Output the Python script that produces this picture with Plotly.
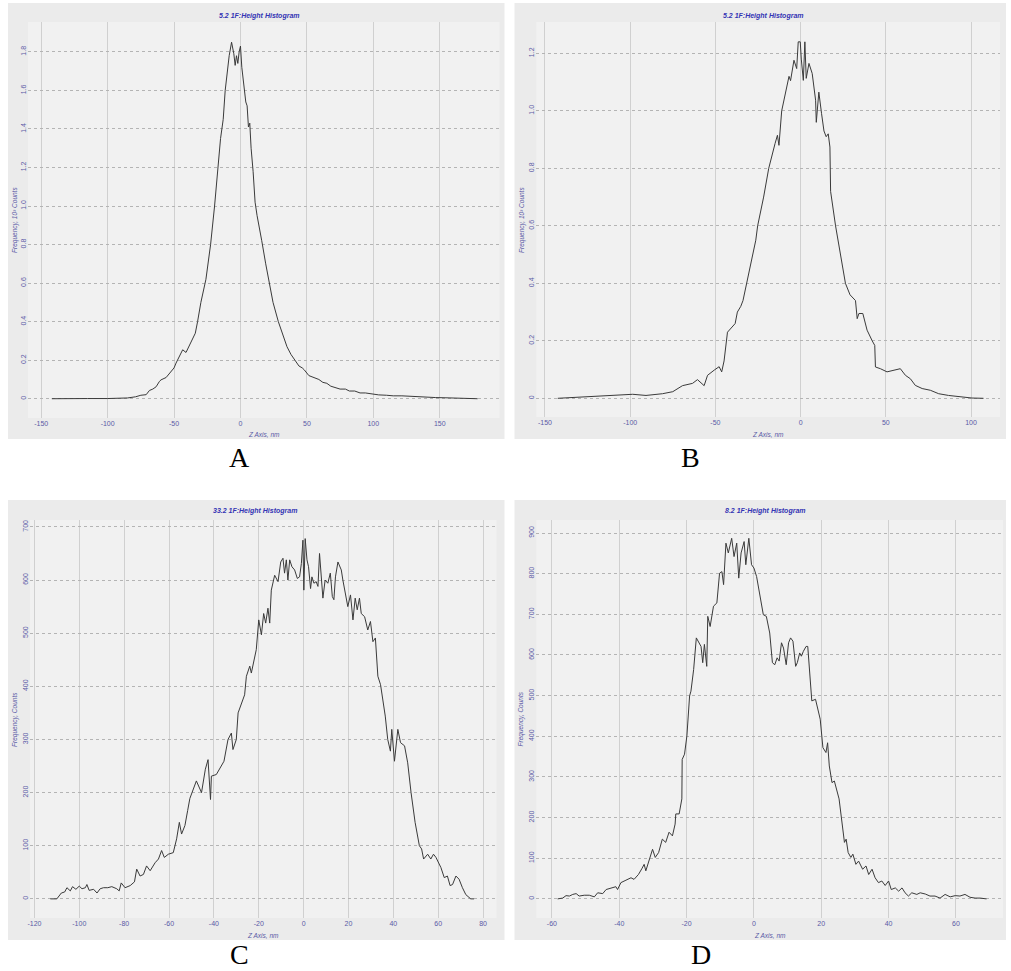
import plotly.graph_objects as go

W, H = 1011, 971

# ---------------- data ----------------
A_x = [-142, -130, -115, -100, -91, -85, -79, -75, -71, -68.5,
       -66, -63.5, -61, -59.8, -56, -52.3, -50, -48.5, -46, -43.5,
       -41, -37.3, -34, -32.3, -29.8, -26, -22.5, -19.5, -17, -15,
       -13, -11.5, -8.5, -6.7, -5, -4, -3, -2, -1, 0,
       1, 2.5, 4, 5, 6, 7, 8, 9.5, 11, 12.5,
       14, 16, 19, 22, 24.5, 28.5, 31.5, 35, 38, 41,
       44, 46.5, 48, 51.5, 55, 59, 62, 65, 68, 71,
       75, 79, 82, 86, 90, 94, 99, 104, 110, 115,
       121.5, 128, 134, 140, 147, 154, 160, 166, 172, 178.5]
A_y = [0, 0.002, 0.001, 0.001, 0.002, 0.004, 0.01, 0.018, 0.021, 0.043,
       0.05, 0.062, 0.09, 0.098, 0.11, 0.14, 0.16, 0.185, 0.22, 0.254,
       0.24, 0.29, 0.34, 0.4, 0.5, 0.62, 0.8, 1.0, 1.2, 1.35,
       1.45, 1.6, 1.78, 1.85, 1.79, 1.73, 1.78, 1.74, 1.8, 1.83,
       1.72, 1.62, 1.54, 1.52, 1.41, 1.43, 1.3, 1.18, 1.02, 0.95,
       0.9, 0.82, 0.7, 0.6, 0.5, 0.4, 0.34, 0.27, 0.23, 0.2,
       0.17, 0.16, 0.15, 0.12, 0.11, 0.1, 0.085, 0.08, 0.065, 0.06,
       0.05, 0.05, 0.04, 0.04, 0.03, 0.03, 0.025, 0.02, 0.018, 0.015,
       0.015, 0.012, 0.01, 0.008, 0.006, 0.005, 0.004, 0.003, 0.003, 0]

B_x = [-142.5, -133.7, -122, -110, -98.5, -90.7, -81, -75, -69.3, -63.4,
       -60.5, -56.6, -54.6, -50.7, -47.8, -46.3, -44.9, -42.9, -41, -38.4,
       -37.1, -35.1, -33.8, -31.6, -28, -26.3, -25.2, -21.7, -18.7, -16.4,
       -15, -13.6, -12.7, -11.1, -8.8, -6.8, -5.9, -3.9, -2.3, -1.4,
       -0.2, 0.4, 1.6, 2.5, 3.3, 4.9, 6.8, 8.8, 9.2, 10.7,
       12.3, 13.7, 15, 16.2, 17.2, 17.6, 20.5, 23.4, 25, 26.3,
       29, 32.2, 33.2, 34.2, 36.5, 39, 42, 43.5, 43.9, 46.8,
       50.7, 54.6, 58.5, 61.5, 64.4, 67.3, 71.3, 76.1, 81, 86.8,
       93.7, 100.5, 107.3]
B_y = [0, 0.003, 0.005, 0.01, 0.014, 0.01, 0.016, 0.023, 0.044, 0.052,
       0.065, 0.044, 0.08, 0.098, 0.11, 0.092, 0.13, 0.23, 0.244, 0.26,
       0.3, 0.32, 0.34, 0.4, 0.5, 0.55, 0.6, 0.7, 0.8, 0.86,
       0.886, 0.915, 0.88, 1.0, 1.07, 1.12, 1.105, 1.176, 1.147, 1.24,
       1.24, 1.18, 1.106, 1.24, 1.113, 1.165, 1.13, 1.037, 0.96, 1.065,
       0.99, 0.93, 0.91, 0.92, 0.874, 0.72, 0.6, 0.5, 0.45, 0.4,
       0.36, 0.34, 0.277, 0.295, 0.295, 0.237, 0.2, 0.184, 0.109, 0.103,
       0.092, 0.097, 0.103, 0.08, 0.068, 0.045, 0.034, 0.028, 0.016, 0.01,
       0.005, 0.001, 0]

C_x = [-112.9, -110, -108, -106.5, -105.5, -104, -103, -101.5, -100, -98.8,
       -97.3, -96.6, -95.6, -93.6, -92.1, -90.7, -89.2, -87.3, -85.5, -83.3,
       -82.2, -81.3, -79.6, -77.3, -75.4, -74.4, -72.9, -71.4, -70, -68.4,
       -66.2, -64.7, -63.3, -62.1, -60.3, -58.1, -56.6, -55.4, -54.4, -52.9,
       -51.7, -50.7, -47.8, -45.5, -43.8, -42.6, -41.5, -41.1, -38.9, -37.4,
       -35.5, -33.7, -32.2, -31.5, -30, -29.2, -27.7, -26.3, -25.5, -24,
       -23.3, -22.1, -21.1, -20, -18.8, -17.8, -16.9, -15.9, -15.1, -14.4,
       -12.9, -11.4, -10.2, -9.2, -8.5, -7.7, -7, -6.2, -5.2, -4,
       -2.8, -1.8, -1, -0.3, 0.1, 0.7, 1.5, 2.2, 3.1, 3.7,
       4.6, 5.6, 6.4, 7.1, 7.9, 8.6, 9.6, 10.8, 11.9, 12.8,
       13.5, 14.2, 15.3, 16.8, 17.5, 18.5, 19.7, 20.9, 22, 23,
       23.9, 24.9, 25.7, 27.2, 28.6, 29.8, 30.9, 32, 33.1, 34.3,
       35.3, 36.4, 37.5, 38.7, 39.3, 40.5, 42, 43.2, 45, 46.4,
       47.9, 49.7, 51.6, 52.6, 53.5, 55.3, 56.7, 57.9, 59, 61.2,
       62.7, 64.1, 65.3, 66.4, 67.9, 69.3, 70.8, 72.3, 74.5, 76]
C_y = [0, 0, 11, 13, 21, 15, 23, 18, 24, 19,
       21, 27, 16, 18, 11, 19, 21, 21, 23, 19,
       15, 30, 21, 25, 32, 56, 43, 46, 62, 53,
       68, 75, 91, 78, 84, 87, 113, 144, 122, 138,
       166, 189, 222, 200, 244, 262, 187, 231, 234, 244,
       259, 300, 312, 281, 300, 350, 369, 384, 419, 438,
       425, 450, 469, 525, 497, 537, 519, 547, 519, 581,
       609, 597, 634, 641, 613, 638, 600, 638, 625, 619,
       603, 606, 631, 675, 581, 678, 638, 625, 584, 606,
       594, 597, 588, 650, 606, 566, 600, 594, 613, 569,
       563, 606, 634, 619, 600, 578, 550, 572, 525, 566,
       544, 566, 537, 531, 506, 522, 484, 491, 419, 403,
       375, 344, 300, 278, 319, 259, 319, 294, 288, 256,
       200, 144, 100, 94, 75, 84, 75, 84, 78, 59,
       40, 43, 25, 27, 43, 37, 21, 8, 0, 0]

D_x = [-58.3, -56.8, -55.8, -54.8, -53.8, -52.8, -51.9, -50.4, -48.9, -47.4,
       -46.4, -44.9, -43.9, -42.5, -41, -40.5, -39.5, -38, -36.5, -35.6,
       -34.3, -33.3, -32.6, -32.1, -31.1, -30.1, -29.3, -28.3, -27.2, -26.2,
       -25.2, -24.2, -23.4, -23.2, -22.2, -21.4, -21.3, -20.6, -19.9, -19.1,
       -18.7, -17.9, -17.1, -16.4, -15.7, -15.2, -14.7, -14, -13.7, -13,
       -12, -11, -10.2, -9.5, -9, -8.3, -7.6, -6.6, -5.9, -5.1,
       -4.5, -3.8, -2.9, -2.4, -1.5, -0.7, 0, 0.8, 1.6, 2.3,
       2.8, 3.7, 4.7, 5.5, 6.2, 6.9, 7.5, 8.2, 8.8, 9.6,
       10.3, 10.9, 11.6, 12.4, 12.9, 13.6, 14.1, 14.7, 15.5, 16,
       16.8, 17.2, 18.3, 19, 19.7, 20.5, 21.4, 21.9, 22.4, 23.2,
       23.9, 25.3, 26.2, 26.9, 27.4, 28, 28.8, 29.4, 30.3, 31.1,
       32.3, 33.3, 34.1, 35.1, 36, 37, 38, 39, 40, 40.8,
       42, 43, 44, 44.9, 45.9, 46.9, 48.4, 49.4, 50.9, 52.3,
       53.8, 55.3, 56.8, 58.3, 59.8, 61.2, 62.7, 64.2, 65.7, 67.2,
       69.1]
D_y = [0, 2, 8, 7, 11, 13, 7, 9, 9, 5,
       15, 13, 23, 27, 30, 23, 40, 46, 52, 48,
       60, 74, 85, 69, 98, 122, 102, 114, 147, 139,
       164, 155, 184, 209, 209, 246, 343, 356, 401, 499,
       511, 564, 642, 630, 621, 581, 626, 572, 695, 670,
       720, 728, 801, 805, 773, 875, 851, 887, 842, 875,
       789, 851, 879, 822, 887, 822, 814, 793, 756, 720,
       699, 695, 654, 581, 576, 593, 585, 630, 617, 576,
       630, 642, 634, 572, 581, 605, 597, 609, 621, 621,
       531, 487, 491, 466, 442, 372, 360, 384, 327, 286,
       290, 246, 184, 139, 147, 114, 102, 110, 85, 93,
       73, 81, 60, 73, 52, 40, 44, 33, 44, 23,
       27, 19, 27, 15, 7, 15, 11, 15, 12, 7,
       7, 2, 11, 5, 8, 7, 11, 4, 2, 2,
       0]

for _x, _y in ((A_x, A_y), (B_x, B_y), (C_x, C_y), (D_x, D_y)):
    assert len(_x) == len(_y)

A_xticks = [-150, -100, -50, 0, 50, 100, 150]
B_xticks = [-150, -100, -50, 0, 50, 100]
C_xticks = [-120, -100, -80, -60, -40, -20, 0, 20, 40, 60, 80]
D_xticks = [-60, -40, -20, 0, 20, 40, 60]
A_yticks = [0, 0.2, 0.4, 0.6, 0.8, 1.0, 1.2, 1.4, 1.6, 1.8]
A_ylabels = ["0", "0.2", "0.4", "0.6", "0.8", "1.0", "1.2", "1.4", "1.6", "1.8"]
B_yticks = [0, 0.2, 0.4, 0.6, 0.8, 1.0, 1.2]
B_ylabels = ["0", "0.2", "0.4", "0.6", "0.8", "1.0", "1.2"]
C_yticks = [0, 100, 200, 300, 400, 500, 600, 700]
D_yticks = [0, 100, 200, 300, 400, 500, 600, 700, 800, 900]

titles = ["5.2 1F:Height Histogram", "5.2 1F:Height Histogram",
          "33.2 1F:Height Histogram", "8.2 1F:Height Histogram"]
y_titles = ["Frequency, 10³ Counts", "Frequency, 10³ Counts",
            "Frequency, Counts", "Frequency, Counts"]
x_title = "Z Axis, nm"
letters = ["A", "B", "C", "D"]

# ---------------- layout geometry (pixels) ----------------
panels = [
    dict(x=A_x, y=A_y, xt=A_xticks, xl=[str(v) for v in A_xticks], yt=A_yticks, yl=A_ylabels,
         bg=(5, 3, 503, 439), plot=(25, 22, 498, 418), xr=[-160, 195], yr=[-0.1, 1.955],
         title_xy=(257, 16), ytitle_x=12, xtitle_y=434, letter_xy=(237, 457)),
    dict(x=B_x, y=B_y, xt=B_xticks, xl=[str(v) for v in B_xticks], yt=B_yticks, yl=B_ylabels,
         bg=(513, 3, 1006, 439), plot=(535, 22, 1000, 417), xr=[-155, 117], yr=[-0.065, 1.309],
         title_xy=(763, 16), ytitle_x=520, xtitle_y=434, letter_xy=(690, 457)),
    dict(x=C_x, y=C_y, xt=C_xticks, xl=[str(v) for v in C_xticks], yt=C_yticks, yl=[str(v) for v in C_yticks],
         bg=(5, 500, 503, 940), plot=(27, 520, 495, 918), xr=[-122, 86], yr=[-36, 713],
         title_xy=(253, 511), ytitle_x=12, xtitle_y=935, letter_xy=(237, 954)),
    dict(x=D_x, y=D_y, xt=D_xticks, xl=[str(v) for v in D_xticks], yt=D_yticks, yl=[str(v) for v in D_yticks],
         bg=(513, 500, 1006, 940), plot=(535, 520, 1003, 918), xr=[-64.6, 74], yr=[-47, 932],
         title_xy=(765, 511), ytitle_x=520, xtitle_y=935, letter_xy=(700, 954)),
]

def fx(px):
    return px / W

def fy(py):
    return 1 - py / H

TICK_FONT = dict(family="Liberation Sans", size=7, color="#5a5aa6")
SMALL_FONT = dict(family="Liberation Sans", size=6.5, color="#5a5aa6")
LINE_COLOR = "#3a3a3a"

fig = go.Figure()
layout = dict(width=W, height=H, margin=dict(l=0, r=0, t=0, b=0),
              paper_bgcolor="white", plot_bgcolor="rgba(0,0,0,0)",
              showlegend=False, shapes=[], annotations=[])

for i, p in enumerate(panels):
    n = "" if i == 0 else str(i + 1)
    fig.add_trace(go.Scatter(x=p["x"], y=p["y"], mode="lines",
                             line=dict(color=LINE_COLOR, width=1),
                             xaxis="x" + n, yaxis="y" + n, hoverinfo="skip"))
    x0, y0, x1, y1 = p["plot"]
    layout["xaxis" + n] = dict(domain=[fx(x0), fx(x1)], range=p["xr"], anchor="y" + n,
                               tickmode="array", tickvals=p["xt"], ticktext=p["xl"],
                               showgrid=True, gridcolor="#d0d0d0", gridwidth=1,
                               zeroline=False, showline=False, ticks="",
                               tickfont=TICK_FONT, fixedrange=True)
    layout["yaxis" + n] = dict(domain=[fy(y1), fy(y0)], range=p["yr"], anchor="x" + n,
                               tickmode="array", tickvals=p["yt"], ticktext=p["yl"],
                               tickangle=-90, showgrid=True, gridcolor="#b4b4b4",
                               griddash="dot", gridwidth=1, zeroline=False,
                               showline=False, ticks="", tickfont=TICK_FONT,
                               fixedrange=True)
    bx0, by0, bx1, by1 = p["bg"]
    layout["shapes"].append(dict(type="rect", xref="paper", yref="paper",
                                 x0=fx(bx0), x1=fx(bx1), y0=fy(by1), y1=fy(by0),
                                 fillcolor="#ebebeb", line=dict(width=0), layer="below"))
    layout["shapes"].append(dict(type="rect", xref="paper", yref="paper",
                                 x0=fx(x0), x1=fx(x1), y0=fy(y1), y1=fy(y0),
                                 fillcolor="#f1f1f1", line=dict(width=0), layer="below"))
    tx, ty = p["title_xy"]
    layout["annotations"].append(dict(text="<b><i>" + titles[i] + "</i></b>", x=fx(tx), y=fy(ty),
                                      xref="paper", yref="paper", showarrow=False,
                                      xanchor="center", yanchor="middle",
                                      font=dict(family="Liberation Sans", size=7, color="#3434b4")))
    layout["annotations"].append(dict(text="<i>" + y_titles[i] + "</i>", x=fx(p["ytitle_x"]),
                                      y=fy((y0 + y1) / 2), xref="paper", yref="paper",
                                      showarrow=False, textangle=-90,
                                      xanchor="center", yanchor="middle", font=SMALL_FONT))
    layout["annotations"].append(dict(text="<i>" + x_title + "</i>", x=fx((x0 + x1) / 2),
                                      y=fy(p["xtitle_y"]), xref="paper", yref="paper",
                                      showarrow=False, xanchor="center", yanchor="middle",
                                      font=SMALL_FONT))
    lx, ly = p["letter_xy"]
    layout["annotations"].append(dict(text=letters[i], x=fx(lx), y=fy(ly), xref="paper",
                                      yref="paper", showarrow=False, xanchor="center",
                                      yanchor="middle", borderpad=0,
                                      font=dict(family="Liberation Serif", size=28, color="black")))

fig.update_layout(**layout)
fig.write_html("out.html",
               config={"displayModeBar": False},
               post_script="document.body.style.margin='0';"
                           "document.body.style.overflow='hidden';")
